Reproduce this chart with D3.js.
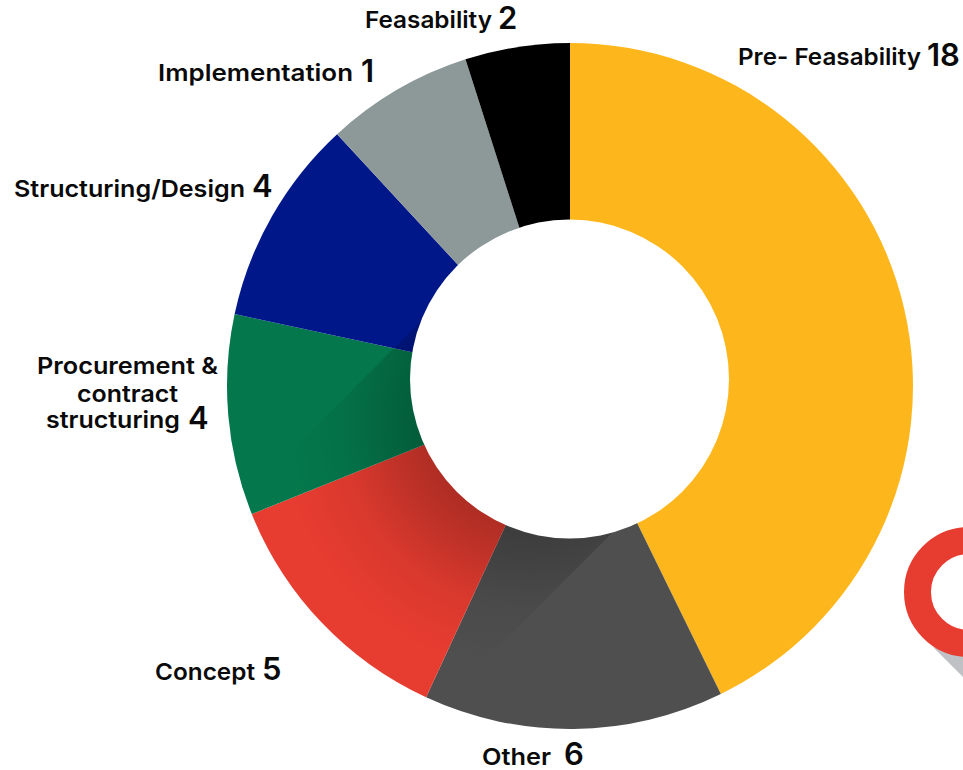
<!DOCTYPE html>
<html><head><meta charset="utf-8">
<script src="https://cdn.jsdelivr.net/npm/d3@7"></script>
<style>html,body{margin:0;padding:0;background:#fff;overflow:hidden}
svg{display:block}
text{font-family:Inter,"Open Sans",sans-serif;fill:#0a0a0a}
.name{font-size:23.5px;font-weight:600}
.num{font-size:31px;font-weight:600}
</style></head><body>
<script>
const categories=["Pre- Feasability","Other","Concept","Procurement & contract structuring","Structuring/Design","Implementation","Feasability"];
// wedge sizes (the drawn wedges are not exactly the printed numbers)
const sliceValues=[17.96,5.94,5.05,3.97,4.10,2.92,2.07];
const labelValues=["18","6","5","4","4","1","2"];
const colors=["#fdb71c","#4f4f4f","#e73c30","#04784c","#00178a","#8d9899","#000000"];
// label layout: lines of the name [text, x start, baseline, width], then number x and baseline
const labelLines=[
 [["Pre- Feasability",738,65,183]],
 [["Other",482,765,69]],
 [["Concept",155,680,100]],
 [["Procurement &",37,374,181],["contract",77,402,101],["structuring",46,428,134]],
 [["Structuring/Design",14,197,231]],
 [["Implementation",158,81,195]],
 [["Feasability",365,28,127]]];
const numberPos=[[927,66],[564,765],[262,680],[188,429],[252,197],[361,82],[498,29]];

const W=963,H=770,cx=570,cy=386,R=343,holeX=569.5,holeY=379,holeR=159.5;
const svg=d3.select("body").append("svg").attr("width",W).attr("height",H);
const defs=svg.append("defs");

const pie=d3.pie().sort(null).value(d=>d)(sliceValues);
const arc=d3.arc().innerRadius(0).outerRadius(R);
const g=svg.append("g").attr("transform",`translate(${cx},${cy})`);
g.selectAll("path.slice").data(pie).join("path").attr("class","slice")
 .attr("d",arc).attr("fill",(d,i)=>colors[i]);

// soft shadow cast by the hole towards lower-left, clipped to the ring
defs.append("clipPath").attr("id","ringClip").append("circle").attr("r",R);
const grad=defs.append("radialGradient").attr("id","shadow").attr("gradientUnits","userSpaceOnUse")
 .attr("cx",-40).attr("cy",35).attr("r",250);
[[0.36,0.27],[0.56,0.17],[0.75,0.06],[1,0]].forEach(([o,a])=>grad.append("stop").attr("offset",o).attr("stop-color","#000").attr("stop-opacity",a));
const a=(742-(cx+cy)),b=(1145-(cx+cy)); // band limits measured as x+y offsets
const L=320;
g.append("g").attr("clip-path","url(#ringClip)").append("path")
 .attr("d",`M${a/2},${a/2}L${a/2-L},${a/2+L}L${b/2-L},${b/2+L}L${b/2},${b/2}Z`)
 .attr("fill","url(#shadow)");

// hole
svg.append("circle").attr("cx",holeX).attr("cy",holeY).attr("r",holeR).attr("fill","#fff");

// decorative ring at the right edge
svg.append("path").attr("d",`M933,647L969,683L969,655Z`).attr("fill","#bfc1c5");
svg.append("circle").attr("cx",969).attr("cy",592).attr("r",51.5).attr("fill","none").attr("stroke","#e73c30").attr("stroke-width",27);

// labels
const lab=svg.append("g");
labelLines.forEach((lines,i)=>{
  lines.forEach(([t,x,y,w])=>{
    lab.append("text").attr("class","name").attr("x",x).attr("y",y)
      .attr("textLength",w).attr("lengthAdjust","spacingAndGlyphs").text(t);
  });
  lab.append("text").attr("class","num").attr("x",numberPos[i][0]).attr("y",numberPos[i][1]).text(labelValues[i]);
});
</script></body></html>
